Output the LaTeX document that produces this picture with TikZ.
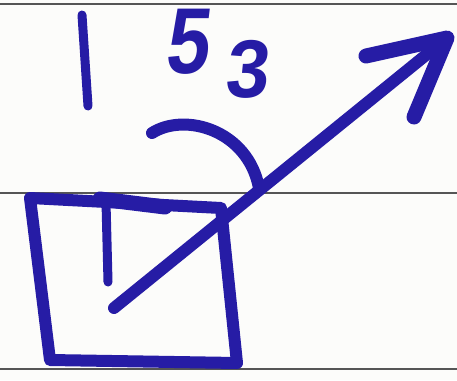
\documentclass[tikz,border=0pt]{standalone}
\usepackage{fontspec}
\setmainfont{Liberation Sans}
\definecolor{ink}{RGB}{38,28,165}
\definecolor{rule}{RGB}{85,85,85}
\definecolor{paper}{RGB}{252,252,250}
\tikzset{
  pen/.style={draw=ink, line width=12pt, line cap=round, line join=round},
  thinpen/.style={draw=ink, line width=9pt, line cap=round, line join=round},
  ruled/.style={draw=rule, line width=2pt},
  digit/.style={text=ink, font=\bfseries\fontsize{78}{78}\selectfont, inner sep=0pt}
}
\begin{document}
\begin{tikzpicture}[x=1pt,y=-1pt]
\fill[paper] (0,0) rectangle (457,380);
\useasboundingbox (0,0) rectangle (457,380);
% paper rules
\coordinate (r1a) at (0,4); \coordinate (r1b) at (457,4);
\coordinate (r2a) at (0,193); \coordinate (r2b) at (457,193);
\coordinate (r3a) at (0,369); \coordinate (r3b) at (457,369);
\draw[ruled] (r1a) -- (r1b);
\draw[ruled] (r2a) -- (r2b);
\draw[ruled] (r3a) -- (r3b);
% vertical stroke
\coordinate (v1) at (82,15); \coordinate (v2) at (88,106);
\draw[thinpen] (v1) -- (v2);
% digits
\node[digit, xslant=0.12, yscale=1.2] (d5) at (190,42) {5};
\node[digit, xslant=0.1, yscale=1.05] (d3) at (249,69) {3};
% hook curve
\coordinate (h0) at (152,133); \coordinate (h1) at (259,188);
\draw[pen] (h0) .. controls (185,112) and (248,130) .. (h1);
% square
\coordinate (s1) at (30,198); \coordinate (s2) at (50,360);
\coordinate (s3) at (237,363); \coordinate (s4) at (221,208);
\draw[pen] (s1) -- (s2) -- (s3) -- (s4) -- cycle;
% inner T
\coordinate (t1) at (106,202); \coordinate (t2) at (108,282);
\coordinate (t3) at (100,199); \coordinate (t4) at (165,207);
\draw[thinpen] (t1) -- (t2);
\draw[draw=ink, line width=15pt, line cap=round] (t3) -- (t4);
% arrow
\coordinate (a0) at (114,308); \coordinate (tip) at (447,38);
\coordinate (b1) at (366,56); \coordinate (b2) at (414,117);
\draw[pen] (a0) -- (tip);
\draw[draw=ink, line width=15pt, line cap=round, line join=round] (b1) -- (tip) -- (b2);
\end{tikzpicture}
\end{document}
